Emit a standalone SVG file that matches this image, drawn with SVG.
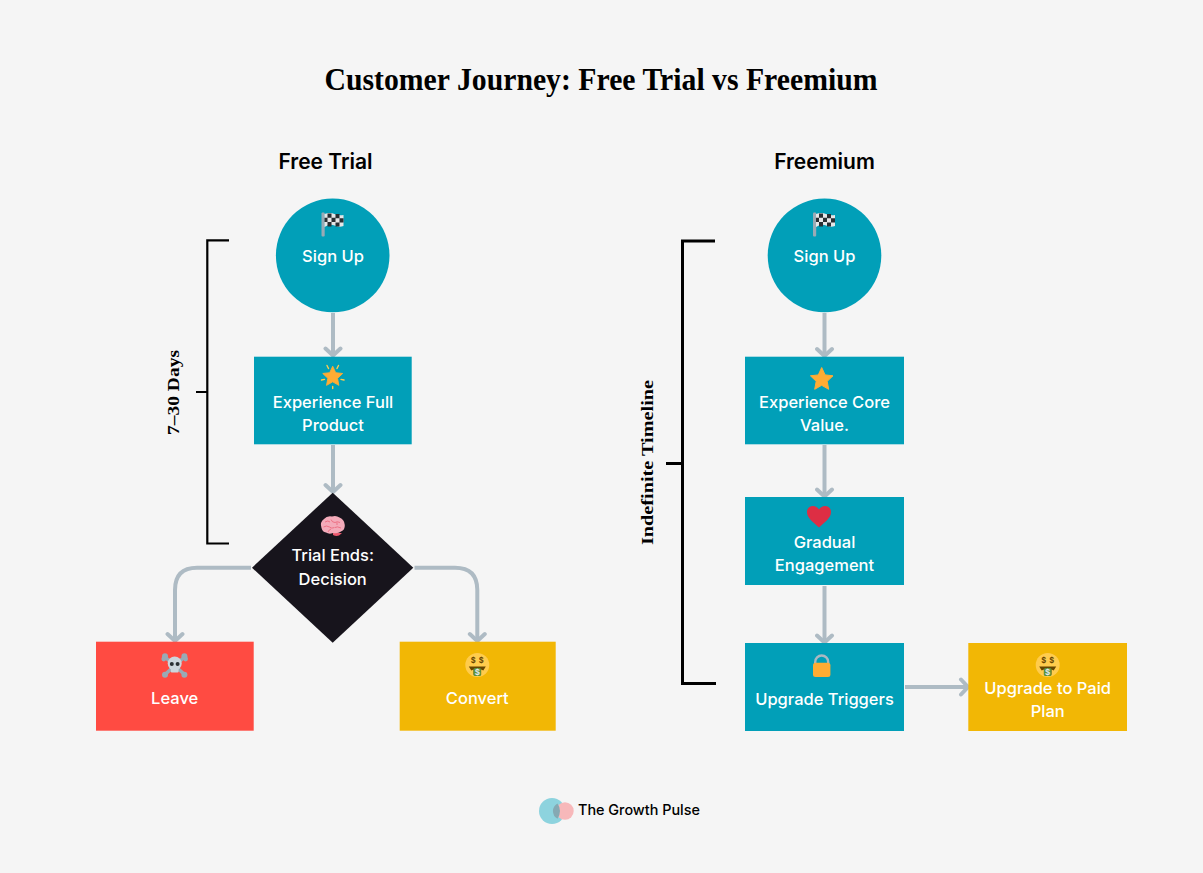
<svg xmlns="http://www.w3.org/2000/svg" width="1203" height="873" viewBox="0 0 1203 873">
<style>
.lbl{font-family:"Inter","Noto Sans",sans-serif;font-size:16.500px;fill:#fff;text-anchor:middle;font-weight:450}
.head{font-family:"Inter","Noto Sans",sans-serif;font-size:21px;fill:#000;text-anchor:middle;font-weight:600}
.serif{font-family:"Liberation Serif","DejaVu Serif",serif;font-weight:700;fill:#000;text-anchor:middle}
.conn{fill:none;stroke:#aebbc4;stroke-width:4;marker-end:url(#chev)}
.br{fill:none;stroke:#000}
.teal{fill:#019fb8}
.d{font-family:"Inter",sans-serif;font-weight:700;text-anchor:middle}
</style>
<defs>
<marker id="chev" markerUnits="userSpaceOnUse" markerWidth="20" markerHeight="20" refX="16" refY="10" orient="auto"><path d="M9 2.500L16 10L9 17.500" fill="none" stroke="#aebbc4" stroke-width="4" stroke-linecap="round"/></marker>
<g id="i-flag"><rect x="-11.500" y="-12" width="3.200" height="24" rx="1" fill="#99aab5"/><path d="M-8.500-10.500Q-3-12.500 1.500-10.500T10.500-9.500V1.500Q6 3 1.500 1T-8.500 2.500Z" fill="#e6e7e8"/><path d="M-5.500-11h4v4.300h-4zM2.500-10.500h4v4.300h-4zM-1.500-6.700h4v4.300h-4zM6.500-6.200h4v4.300h-4zM-8.500-6.700h3v4.300h-3zM-5.500-2.400h4v4.300h-4zM2.500-1.900h4v3.800h-4z" fill="#292f33"/></g>
<g id="i-money"><circle r="12" fill="#ffcc4d"/><path d="M-8.500 1.500H8.500L6 5.500L3.800 4.500V9.500Q0 12.500-3.800 9.500V4.500L-6 5.500Z" fill="#664500"/><rect x="-3.800" y="3" width="7.600" height="8" rx="1.500" fill="#5c913b"/><text class="d" y="10" font-size="8" fill="#e1e8ed">$</text><text class="d" x="-4" y="-2.500" font-size="7.500" fill="#664500">$</text><text class="d" x="4" y="-2.500" font-size="7.500" fill="#664500">$</text></g>
<path id="i-star" d="M0-11.500L3.400-4.100L11.300-3.200L5.500 2.300L7 10.300L0 6.300L-7 10.300L-5.500 2.300L-11.300-3.200L-3.400-4.100Z" fill="#ffac33" stroke="#ffac33" stroke-width="1" stroke-linejoin="round"/>
</defs>
<rect width="1203" height="873" fill="#f5f5f5"/>
<text x="601" y="90" class="serif" font-size="31" textLength="553" lengthAdjust="spacingAndGlyphs">Customer Journey: Free Trial vs Freemium</text>
<text x="325.500" y="168.500" class="head">Free Trial</text>
<text x="824.500" y="168.500" class="head">Freemium</text>
<g id="connectors">
<path class="conn" d="M333 313V355.500"/>
<path class="conn" d="M333 445V492"/>
<path class="conn" d="M251 567.700H197Q175 567.700 175 590V641"/>
<path class="conn" d="M414.500 567.700H455Q477.300 567.700 477.300 590V641"/>
<path class="conn" d="M824.500 313V356"/>
<path class="conn" d="M824.500 445V496.500"/>
<path class="conn" d="M824.500 586V642.500"/>
<path class="conn" d="M905 687H968"/>
</g>
<g id="bracket-trial"><path class="br" stroke-width="2.200" d="M229 240.300H207.300V543.500H229M207.300 392H196"/><text class="serif" font-size="17.500" transform="translate(179 392.500) rotate(-90)" textLength="85" lengthAdjust="spacingAndGlyphs">7–30 Days</text></g>
<g id="bracket-freemium"><path class="br" stroke-width="3" d="M715 241H682.500V683.500H716M682.500 463.500H666"/><text class="serif" font-size="17.500" transform="translate(653 462.500) rotate(-90)" textLength="165" lengthAdjust="spacingAndGlyphs">Indefinite Timeline</text></g>
<g id="t-signup"><circle class="teal" cx="332.700" cy="255.400" r="56.800"/><use href="#i-flag" x="333" y="224.500"/><text class="lbl" x="333" y="262.400">Sign Up</text></g>
<g id="t-experience"><rect class="teal" x="254" y="356.700" width="157.700" height="87.600"/><use href="#i-star" transform="translate(332.700 376.300) scale(.88)"/><path stroke="#ffcc4d" stroke-width="1.400" stroke-linecap="round" d="M327 365.500l1.500 3M338.500 365.500l-1.500 3M321.500 380l3-.6M344 380l-3-.6M332.700 388.500v-2"/><text class="lbl" x="333" y="408.400">Experience Full</text><text class="lbl" x="333" y="431.400">Product</text></g>
<g id="t-decision"><path fill="#17141c" d="M332.700 492.700L413.300 567.700L332.700 642.700L252 567.700Z"/><g id="i-brain"><path fill="#ea596e" d="M333 533h9l-3 2.500q-3 1-6-.5z"/><path fill="#f4abba" d="M321.500 528Q319.500 522 324 519Q327 515.500 332 516.500Q336 515 339.500 517.500Q344.500 519.500 344.800 525Q345 530 341 531.500Q338 534 333 533Q329 534.500 326 532.500Q322.500 532 321.500 528Z"/><path d="M325 522q3-2 5 0M331 519.500q1 3 4 3q2-1.500 5 0M323.500 527q3-2 6 0q2 2 5 .5M335 527.500q2-1.500 6 .5M328 532q1-2.500 3-3M337 522.500v2.500" fill="none" stroke="#ea596e" stroke-width=".7"/></g><text class="lbl" x="332.700" y="561.400">Trial Ends:</text><text class="lbl" x="332.700" y="584.800">Decision</text></g>
<g id="t-leave"><rect fill="#ff4b42" x="96" y="641.700" width="157.700" height="89"/><g fill="#99aab5"><path d="M165 657l19.500 17.500M184.500 657l-19.500 17.500" stroke="#99aab5" stroke-width="3.500"/><circle cx="165" cy="656.300" r="3"/><circle cx="163.800" cy="659" r="2.400"/><circle cx="184.400" cy="656.300" r="3"/><circle cx="185.600" cy="659" r="2.400"/><circle cx="165" cy="674.700" r="3"/><circle cx="184.400" cy="674.700" r="3"/></g><circle cx="174.700" cy="663.500" r="7" fill="#ccd6dd"/><rect x="170.800" y="668" width="7.800" height="4.500" rx="1" fill="#ccd6dd"/><circle cx="171.800" cy="664" r="2" fill="#292f33"/><circle cx="177.600" cy="664" r="2" fill="#292f33"/><text class="lbl" x="174.700" y="704.400">Leave</text></g>
<g id="t-convert"><rect fill="#f2b705" x="399.700" y="641.700" width="156" height="89"/><use href="#i-money" x="477.300" y="665"/><text class="lbl" x="477.300" y="704.400">Convert</text></g>
<g id="f-signup"><circle class="teal" cx="824.500" cy="255.400" r="56.800"/><use href="#i-flag" x="824.500" y="224.500"/><text class="lbl" x="824.500" y="262.400">Sign Up</text></g>
<g id="f-core"><rect class="teal" x="745" y="356.700" width="159" height="87.600"/><use href="#i-star" x="821.700" y="379"/><text class="lbl" x="824.500" y="408.400">Experience Core</text><text class="lbl" x="824.500" y="431.400">Value.</text></g>
<g id="f-gradual"><rect class="teal" x="745" y="497" width="159" height="88"/><path d="M819 527.500C813 522 807 518 807 512C807 505 816 504 819 509.500C822 504 831 505 831 512C831 518 825 522 819 527.500Z" fill="#dd2e44"/><text class="lbl" x="824.500" y="548.400">Gradual</text><text class="lbl" x="824.500" y="571.400">Engagement</text></g>
<g id="f-triggers"><rect class="teal" x="745" y="643" width="159" height="88"/><path d="M815.200 664v-2a6.500 6.500 0 0 1 13 0v2" fill="none" stroke="#aab8c2" stroke-width="2.400"/><rect x="813" y="662.700" width="17.400" height="14.300" rx="2.500" fill="#ffac33"/><text class="lbl" x="824.500" y="705.400">Upgrade Triggers</text></g>
<g id="f-paid"><rect fill="#f2b705" x="968.300" y="643" width="158.700" height="88"/><use href="#i-money" x="1047.700" y="665"/><text class="lbl" x="1047.700" y="694.400">Upgrade to Paid</text><text class="lbl" x="1047.700" y="717.400">Plan</text></g>
<g id="logo"><circle cx="552" cy="811" r="13" fill="#8dd3de"/><circle cx="565" cy="811" r="8.700" fill="#f7b8ba"/><path d="M557.500 803.400A13 13 0 0 1 557.500 818.700A8.700 8.700 0 0 1 557.500 803.400Z" fill="#85a9b3"/><text x="578" y="815" font-family="Inter,sans-serif" font-weight="500" font-size="14.400" fill="#000">The Growth Pulse</text></g>
</svg>
